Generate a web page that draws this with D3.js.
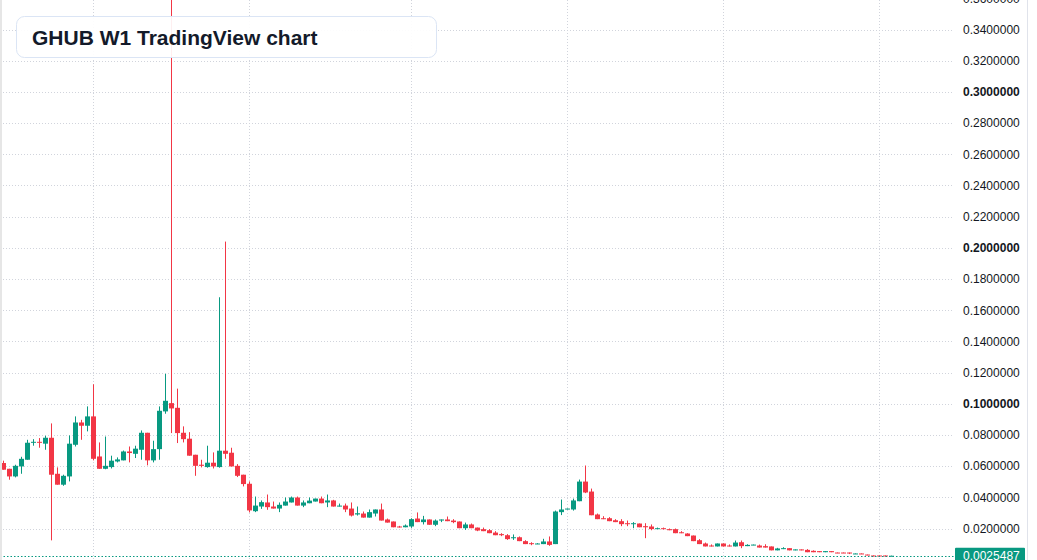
<!DOCTYPE html>
<html>
<head>
<meta charset="utf-8">
<script src="https://cdn.jsdelivr.net/npm/d3@7"></script>
<style>
  html, body { margin: 0; padding: 0; background: #ffffff; }
  svg { display: block; }
  .tick text { font-family: "Liberation Sans", Arial, sans-serif; font-size: 12px; fill: #131722; }
</style>
</head>
<body>
<svg id="chart"></svg>
<script>
// weekly candles, values
const opens = [
  0.0620, 0.0583, 0.0534, 0.0598, 0.0641, 0.0752, 0.0756, 0.0744, 0.0782, 0.0551,
  0.0481, 0.0534, 0.0737, 0.0880, 0.0859, 0.0919, 0.0662, 0.0583, 0.0594, 0.0630,
  0.0637, 0.0694, 0.0679, 0.0705, 0.0814, 0.0637, 0.0709, 0.0951, 0.1004, 0.0974,
  0.0814, 0.0776, 0.0673, 0.0609, 0.0594, 0.0622, 0.0594, 0.0699, 0.0686, 0.0602,
  0.0545, 0.0487, 0.0311, 0.0341, 0.0367, 0.0341, 0.0328, 0.0347, 0.0367, 0.0399,
  0.0347, 0.0362, 0.0373, 0.0392, 0.0367, 0.0380, 0.0341, 0.0347, 0.0328, 0.0290,
  0.0296, 0.0270, 0.0296, 0.0322, 0.0258, 0.0245, 0.0213, 0.0208, 0.0213, 0.0264,
  0.0241, 0.0258, 0.0224, 0.0251, 0.0258, 0.0251, 0.0245, 0.0202, 0.0226, 0.0206,
  0.0196, 0.0189, 0.0174, 0.0164, 0.0157, 0.0138, 0.0144, 0.0119, 0.0106, 0.0100,
  0.0100, 0.0117, 0.0100, 0.0305, 0.0324, 0.0322, 0.0375, 0.0501, 0.0437, 0.0290,
  0.0266, 0.0266, 0.0253, 0.0247, 0.0234, 0.0228, 0.0232, 0.0215, 0.0213, 0.0196,
  0.0202, 0.0196, 0.0196, 0.0176, 0.0168, 0.0155, 0.0125, 0.0104, 0.0091, 0.0085,
  0.0104, 0.0091, 0.0085, 0.0112, 0.0087, 0.0093, 0.0091, 0.0087, 0.0085, 0.0060,
  0.0068, 0.0074, 0.0060, 0.0066, 0.0063, 0.0057, 0.0055, 0.0048, 0.0055, 0.0046,
  0.0046, 0.0046, 0.0036, 0.0040, 0.0033, 0.0027, 0.0027, 0.0027, 0.0022
];
const highs = [
  0.0635, 0.0583, 0.0609, 0.0660, 0.0769, 0.0773, 0.0780, 0.0795, 0.0874, 0.0592,
  0.0545, 0.0797, 0.0919, 0.0897, 0.0983, 0.1125, 0.0752, 0.0790, 0.0667, 0.0656,
  0.0700, 0.0726, 0.0731, 0.0829, 0.0814, 0.0763, 0.0983, 0.1192, 0.4000, 0.1097,
  0.0855, 0.0818, 0.0673, 0.0641, 0.0731, 0.0688, 0.1683, 0.2040, 0.0718, 0.0613,
  0.0545, 0.0502, 0.0405, 0.0380, 0.0418, 0.0373, 0.0367, 0.0399, 0.0405, 0.0405,
  0.0380, 0.0399, 0.0392, 0.0405, 0.0418, 0.0384, 0.0360, 0.0360, 0.0367, 0.0341,
  0.0309, 0.0322, 0.0322, 0.0360, 0.0264, 0.0245, 0.0217, 0.0226, 0.0266, 0.0303,
  0.0281, 0.0258, 0.0258, 0.0258, 0.0277, 0.0260, 0.0245, 0.0238, 0.0232, 0.0206,
  0.0206, 0.0196, 0.0183, 0.0170, 0.0164, 0.0162, 0.0149, 0.0125, 0.0112, 0.0106,
  0.0134, 0.0149, 0.0315, 0.0386, 0.0328, 0.0392, 0.0514, 0.0604, 0.0456, 0.0296,
  0.0279, 0.0273, 0.0260, 0.0260, 0.0251, 0.0241, 0.0232, 0.0234, 0.0226, 0.0206,
  0.0206, 0.0200, 0.0200, 0.0183, 0.0170, 0.0155, 0.0132, 0.0110, 0.0098, 0.0104,
  0.0104, 0.0098, 0.0123, 0.0123, 0.0099, 0.0097, 0.0097, 0.0099, 0.0085, 0.0076,
  0.0080, 0.0074, 0.0066, 0.0066, 0.0068, 0.0060, 0.0055, 0.0055, 0.0055, 0.0046,
  0.0046, 0.0046, 0.0040, 0.0040, 0.0033, 0.0027, 0.0027, 0.0027, 0.0026
];
const lows = [
  0.0577, 0.0513, 0.0528, 0.0551, 0.0641, 0.0731, 0.0718, 0.0705, 0.0124, 0.0481,
  0.0474, 0.0502, 0.0726, 0.0769, 0.0823, 0.0637, 0.0583, 0.0580, 0.0585, 0.0624,
  0.0637, 0.0624, 0.0652, 0.0641, 0.0605, 0.0624, 0.0641, 0.0936, 0.0812, 0.0748,
  0.0752, 0.0667, 0.0538, 0.0592, 0.0590, 0.0585, 0.0590, 0.0647, 0.0598, 0.0530,
  0.0470, 0.0303, 0.0305, 0.0326, 0.0320, 0.0328, 0.0305, 0.0347, 0.0367, 0.0347,
  0.0337, 0.0362, 0.0373, 0.0362, 0.0337, 0.0341, 0.0341, 0.0305, 0.0277, 0.0283,
  0.0270, 0.0270, 0.0277, 0.0251, 0.0238, 0.0208, 0.0206, 0.0208, 0.0204, 0.0241,
  0.0226, 0.0224, 0.0215, 0.0241, 0.0247, 0.0234, 0.0202, 0.0191, 0.0202, 0.0183,
  0.0183, 0.0170, 0.0157, 0.0151, 0.0127, 0.0127, 0.0119, 0.0100, 0.0093, 0.0100,
  0.0100, 0.0089, 0.0100, 0.0286, 0.0322, 0.0315, 0.0375, 0.0427, 0.0285, 0.0260,
  0.0260, 0.0247, 0.0241, 0.0215, 0.0215, 0.0202, 0.0208, 0.0138, 0.0189, 0.0196,
  0.0194, 0.0189, 0.0170, 0.0170, 0.0151, 0.0119, 0.0100, 0.0085, 0.0085, 0.0085,
  0.0085, 0.0085, 0.0085, 0.0074, 0.0087, 0.0093, 0.0078, 0.0078, 0.0060, 0.0060,
  0.0068, 0.0060, 0.0060, 0.0060, 0.0048, 0.0048, 0.0048, 0.0048, 0.0048, 0.0042,
  0.0042, 0.0036, 0.0036, 0.0036, 0.0029, 0.0021, 0.0023, 0.0021, 0.0022
];
const closes = [
  0.0577, 0.0534, 0.0602, 0.0647, 0.0750, 0.0756, 0.0752, 0.0782, 0.0545, 0.0481,
  0.0538, 0.0744, 0.0880, 0.0859, 0.0919, 0.0647, 0.0583, 0.0602, 0.0635, 0.0643,
  0.0694, 0.0684, 0.0712, 0.0814, 0.0637, 0.0709, 0.0955, 0.1019, 0.0970, 0.0812,
  0.0773, 0.0667, 0.0602, 0.0602, 0.0622, 0.0598, 0.0699, 0.0679, 0.0598, 0.0538,
  0.0485, 0.0316, 0.0347, 0.0369, 0.0337, 0.0328, 0.0352, 0.0373, 0.0399, 0.0347,
  0.0367, 0.0379, 0.0392, 0.0362, 0.0380, 0.0341, 0.0347, 0.0322, 0.0283, 0.0298,
  0.0270, 0.0305, 0.0322, 0.0251, 0.0238, 0.0208, 0.0208, 0.0219, 0.0260, 0.0241,
  0.0258, 0.0224, 0.0251, 0.0258, 0.0247, 0.0241, 0.0202, 0.0226, 0.0202, 0.0187,
  0.0183, 0.0170, 0.0157, 0.0157, 0.0132, 0.0144, 0.0119, 0.0100, 0.0100, 0.0104,
  0.0117, 0.0095, 0.0309, 0.0322, 0.0328, 0.0380, 0.0501, 0.0431, 0.0285, 0.0260,
  0.0260, 0.0247, 0.0241, 0.0228, 0.0228, 0.0234, 0.0208, 0.0208, 0.0196, 0.0202,
  0.0196, 0.0189, 0.0170, 0.0170, 0.0151, 0.0119, 0.0100, 0.0085, 0.0085, 0.0104,
  0.0085, 0.0085, 0.0110, 0.0087, 0.0095, 0.0097, 0.0078, 0.0078, 0.0060, 0.0072,
  0.0074, 0.0060, 0.0066, 0.0060, 0.0048, 0.0048, 0.0048, 0.0055, 0.0048, 0.0042,
  0.0042, 0.0040, 0.0040, 0.0036, 0.0029, 0.0023, 0.0023, 0.0021, 0.0025487
];

// first bar of each half year (vertical grid)
const gridBars = [15, 41, 68, 94, 120, 146];
const priceTicks = [0.02, 0.04, 0.06, 0.08, 0.10, 0.12, 0.14, 0.16, 0.18, 0.20,
                    0.22, 0.24, 0.26, 0.28, 0.30, 0.32, 0.34, 0.36];
const lastPrice = 0.0025487;
const title = "GHUB W1 TradingView chart";

const upColor = "#089981";
const downColor = "#f23645";

const width = 1037, height = 560;
const plotRight = 952;

const candles = opens.map((o, i) => ({ i, o, h: highs[i], l: lows[i], c: closes[i] }));

const svg = d3.select("#chart")
    .attr("width", width)
    .attr("height", height);

const x = d3.scaleLinear()
    .domain([0, candles.length - 1])
    .range([3.5, 3.5 + 6 * (candles.length - 1)]);

const y = d3.scaleLinear()
    .domain([0, 0.35893])
    .range([559.7, 0]);

// grid
svg.append("g")
    .selectAll("line")
    .data(priceTicks)
    .enter().append("line")
    .attr("x1", 0)
    .attr("x2", plotRight)
    .attr("y1", d => Math.round(y(d)) + 0.5)
    .attr("y2", d => Math.round(y(d)) + 0.5)
    .attr("stroke", "#d1d4dc")
    .attr("stroke-dasharray", "1,2");

svg.append("g")
    .selectAll("line")
    .data(gridBars)
    .enter().append("line")
    .attr("x1", d => x(d))
    .attr("x2", d => x(d))
    .attr("y1", 0)
    .attr("y2", height)
    .attr("stroke", "#d1d4dc")
    .attr("stroke-dasharray", "1,2");

// candles
const bars = svg.append("g");

bars.selectAll(".wick")
    .data(candles)
    .enter().append("line")
    .attr("class", "wick")
    .attr("x1", d => x(d.i))
    .attr("x2", d => x(d.i))
    .attr("y1", d => y(d.h))
    .attr("y2", d => y(d.l))
    .attr("stroke", d => d.c >= d.o ? upColor : downColor)
    .attr("stroke-width", 1);

bars.selectAll(".body")
    .data(candles)
    .enter().append("rect")
    .attr("class", "body")
    .attr("x", d => x(d.i) - 2.5)
    .attr("width", 5)
    .attr("y", d => y(Math.max(d.o, d.c)))
    .attr("height", d => Math.max(1, Math.abs(y(d.o) - y(d.c))))
    .attr("fill", d => d.c >= d.o ? upColor : downColor);

// last price line
svg.append("line")
    .attr("x1", 0)
    .attr("x2", 955)
    .attr("y1", Math.round(y(lastPrice)) + 0.5)
    .attr("y2", Math.round(y(lastPrice)) + 0.5)
    .attr("stroke", upColor)
    .attr("stroke-dasharray", "1.5,2");

// right price axis
const axis = svg.append("g")
    .attr("transform", "translate(960,0)")
    .call(d3.axisRight(y)
        .tickValues(priceTicks)
        .tickSize(0)
        .tickPadding(3)
        .tickFormat(d3.format(".7f")));

axis.select(".domain").remove();
axis.selectAll("text")
    .style("font-weight", d => [0.1, 0.2, 0.3].some(v => Math.abs(v - d) < 1e-9) ? "bold" : "normal");

svg.append("rect")
    .attr("x", 955)
    .attr("y", y(lastPrice) - 8)
    .attr("width", 70)
    .attr("height", 16)
    .attr("rx", 1)
    .attr("fill", upColor);

svg.append("text")
    .attr("x", 963)
    .attr("y", y(lastPrice))
    .attr("dy", "0.35em")
    .style("font-family", "'Liberation Sans', Arial, sans-serif")
    .style("font-size", "12px")
    .attr("fill", "#ffffff")
    .text(d3.format(".7f")(lastPrice));

// borders
svg.append("rect")
    .attr("x", 0)
    .attr("y", 0)
    .attr("width", 2)
    .attr("height", height)
    .attr("fill", "#e6e6e6");

svg.append("line")
    .attr("x1", 1027.5)
    .attr("x2", 1027.5)
    .attr("y1", 0)
    .attr("y2", height)
    .attr("stroke", "#e0e3eb");

// title badge
svg.append("rect")
    .attr("x", 16.5)
    .attr("y", 16.5)
    .attr("width", 420)
    .attr("height", 41)
    .attr("rx", 8)
    .attr("fill", "#ffffff")
    .attr("fill-opacity", 0.92)
    .attr("stroke", "#dbe5f5");

svg.append("text")
    .attr("x", 32)
    .attr("y", 44.5)
    .style("font-family", "'Liberation Sans', Arial, sans-serif")
    .style("font-size", "21px")
    .style("font-weight", "bold")
    .attr("fill", "#131a2a")
    .text(title);
</script>
</body>
</html>
